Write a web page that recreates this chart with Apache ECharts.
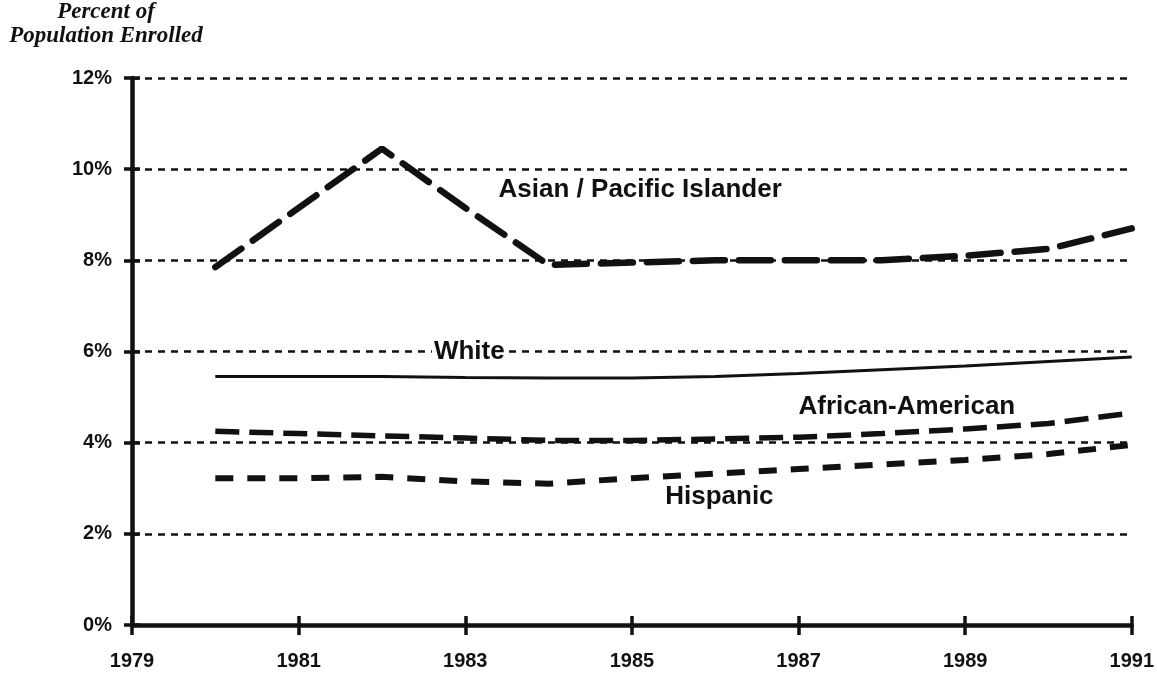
<!DOCTYPE html>
<html>
<head>
<meta charset="utf-8">
<script src="https://cdn.jsdelivr.net/npm/echarts@6/dist/echarts.min.js"></script>
<style>
  html, body { margin: 0; padding: 0; background: #fff; }
  #chart { width: 1157px; height: 680px; }
</style>
</head>
<body>
<div id="chart"></div>
<script>
// values (percent of population enrolled)
const years = [1980, 1981, 1982, 1983, 1984, 1985, 1986, 1987, 1988, 1989, 1990, 1991]
const asian = [7.85, 9.15, 10.45, 9.15, 7.9, 7.95, 8.0, 8.0, 8.0, 8.1, 8.25, 8.7]
const white = [5.45, 5.45, 5.45, 5.43, 5.42, 5.42, 5.45, 5.52, 5.6, 5.68, 5.78, 5.88]
const africanAmerican = [4.25, 4.2, 4.15, 4.1, 4.05, 4.05, 4.08, 4.12, 4.2, 4.3, 4.42, 4.65]
const hispanic = [3.22, 3.22, 3.25, 3.15, 3.1, 3.22, 3.32, 3.42, 3.52, 3.62, 3.75, 3.95]
const yTicks = [0, 2, 4, 6, 8, 10, 12]
const xTicks = [1979, 1981, 1983, 1985, 1987, 1989, 1991]

const chart = echarts.init(document.getElementById('chart'))

const labelFont = {
  color: '#111',
  fontFamily: '"Liberation Sans", Arial, sans-serif',
  fontWeight: 'bold',
  fontSize: 26
}

function pairs(vals) {
  return years.map((y, i) => [y, vals[i]])
}

function seriesLabel(text, coord, extra) {
  return {
    symbol: 'circle',
    symbolSize: 0,
    silent: true,
    data: [{
      coord: coord,
      label: Object.assign({
        show: true,
        formatter: text,
        position: 'right',
        distance: 0
      }, labelFont, extra || {})
    }]
  }
}

const option = {
  backgroundColor: '#fff',
  animation: false,
  grid: { left: 132, right: 25, top: 78, bottom: 55 },
  graphic: [
    {
      type: 'text',
      x: 106,
      y: 0,
      style: {
        text: 'Percent of\nPopulation Enrolled',
        textAlign: 'center',
        fill: '#111',
        font: 'italic bold 23px "Liberation Serif", "Times New Roman", serif',
        lineHeight: 24
      }
    }
  ],
  xAxis: [
    {
      type: 'value',
      min: xTicks[0],
      max: xTicks[xTicks.length - 1],
      interval: 2,
      axisLine: { lineStyle: { color: '#111', width: 4.5 } },
      axisTick: { length: 10, lineStyle: { color: '#111', width: 3.5 } },
      axisLabel: {
        margin: 26,
        color: '#111',
        fontFamily: '"Liberation Sans", Arial, sans-serif',
        fontWeight: 'bold',
        fontSize: 20,
        formatter: (v) => String(v)
      },
      splitLine: { show: false }
    },
    {
      // inner half of the crossing tick marks
      type: 'value',
      position: 'bottom',
      min: xTicks[0],
      max: xTicks[xTicks.length - 1],
      interval: 2,
      axisLine: { show: false },
      axisTick: { inside: true, length: 9, lineStyle: { color: '#111', width: 3.5 } },
      axisLabel: { show: false },
      splitLine: { show: false }
    }
  ],
  yAxis: [
    {
      type: 'value',
      min: yTicks[0],
      max: yTicks[yTicks.length - 1],
      interval: 2,
      axisLine: { show: true, lineStyle: { color: '#111', width: 4.5 } },
      axisTick: { show: true, length: 8, lineStyle: { color: '#111', width: 3.5 } },
      axisLabel: {
        margin: 20,
        color: '#111',
        fontFamily: '"Liberation Sans", Arial, sans-serif',
        fontWeight: 'bold',
        fontSize: 20,
        formatter: '{value}%'
      },
      splitLine: {
        lineStyle: { color: '#111', width: 2.5, type: [7, 6] }
      }
    },
    {
      type: 'value',
      position: 'left',
      min: yTicks[0],
      max: yTicks[yTicks.length - 1],
      interval: 2,
      axisLine: { show: false },
      axisTick: { show: true, inside: true, length: 8, lineStyle: { color: '#111', width: 3.5 } },
      axisLabel: { show: false },
      splitLine: { show: false }
    }
  ],
  series: [
    {
      name: 'Asian / Pacific Islander',
      type: 'line',
      data: pairs(asian),
      symbol: 'none',
      lineStyle: { color: '#111', width: 6.5, type: [32, 14], cap: 'round' },
      markPoint: seriesLabel('Asian / Pacific Islander', [1983.4, 9.55])
    },
    {
      name: 'White',
      type: 'line',
      data: pairs(white),
      symbol: 'none',
      lineStyle: { color: '#111', width: 3 },
      markPoint: seriesLabel('White', [1982.6, 6.0], { backgroundColor: '#fff', padding: [0, 2] })
    },
    {
      name: 'African-American',
      type: 'line',
      data: pairs(africanAmerican),
      symbol: 'none',
      lineStyle: { color: '#111', width: 5.5, type: [24, 10] },
      markPoint: seriesLabel('African-American', [1987.0, 4.79])
    },
    {
      name: 'Hispanic',
      type: 'line',
      data: pairs(hispanic),
      symbol: 'none',
      lineStyle: { color: '#111', width: 6, type: [18, 14] },
      markPoint: seriesLabel('Hispanic', [1985.4, 2.81])
    }
  ]
}

chart.setOption(option)
</script>
</body>
</html>
